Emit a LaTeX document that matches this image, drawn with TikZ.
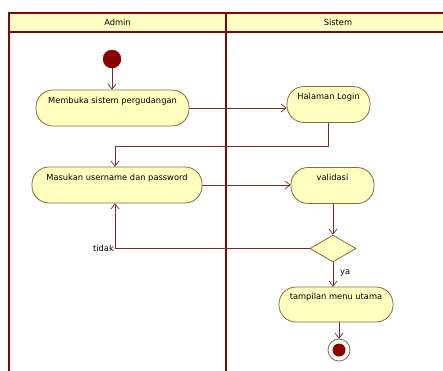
\documentclass[tikz,border=0pt]{standalone}
\usepackage{fontspec}
\setmainfont{DejaVu Sans}
\usetikzlibrary{arrows.meta,shapes.geometric}
\definecolor{lane}{HTML}{7A0A0A}
\definecolor{hdr}{HTML}{FFFFC4}
\definecolor{nfill}{HTML}{FFFFC0}
\definecolor{nbord}{HTML}{8A6A40}
\definecolor{flow}{HTML}{7A2A2A}
\definecolor{dot}{HTML}{8B0000}
\begin{document}
\begin{tikzpicture}[x=1pt,y=-1pt,
  font=\fontsize{8.3}{10}\selectfont,
  action/.style={draw=nbord,fill=nfill,line width=0.8pt,rounded corners=17pt,
    minimum height=36pt,text height=6.5pt,text depth=16pt,inner xsep=2pt},
  decision/.style={draw=nbord,fill=nfill,line width=0.8pt,diamond,aspect=1.7,
    minimum width=46pt,minimum height=27pt,inner sep=0pt},
  flowline/.style={draw=flow,line width=0.7pt,-{Straight Barb[length=5pt,width=8pt]}},
  lanebox/.style={draw=lane,line width=1.6pt},
  hdrtext/.style={font=\fontsize{8.3}{10}\selectfont}]
\useasboundingbox (0,0) rectangle (443,370);
% swimlanes
\fill[white] (0,0) rectangle (443,370);
\path[fill=hdr] (9,13) rectangle (452,32);
\draw[lanebox] (9,380) -- (9,13) -- (452,13);
\draw[lanebox] (9,32) -- (452,32);
\draw[lanebox] (226,13) -- (226,380);
\node[hdrtext] (hA) at (117.5,22.5) {Admin};
\node[hdrtext] (hS) at (338,22.5) {Sistem};
% nodes
\node[circle,fill=dot,draw=lane,line width=0.4pt,minimum size=18pt,inner sep=0pt] (start) at (112,59) {};
\node[action,minimum width=153pt] (membuka) at (112.5,108) {Membuka sistem pergudangan};
\node[action,minimum width=83pt] (login) at (328.5,104.5) {Halaman Login};
\node[action,minimum width=170pt] (masukan) at (117,185) {Masukan username dan password};
\node[action,minimum width=83pt] (validasi) at (332.5,185.5) {validasi};
\node[decision] (dec) at (333,248.5) {};
\node[action,minimum width=114pt,minimum height=35pt] (menu) at (336,304.5) {tampilan menu utama};
\node[circle,draw=nbord,fill=white,line width=0.8pt,minimum size=22pt,inner sep=0pt] (final) at (339,350) {};
\node[circle,fill=dot,minimum size=13pt,inner sep=0pt] (finalin) at (final.center) {};
\coordinate (c1) at (115,146);
\coordinate (c2) at (115,248.5);
% connectors
\draw[flowline] (start) -- (start |- membuka.north);
\draw[flowline] (membuka.east) -- (login.west |- membuka.east);
\draw[flowline] (login.south) |- (c1) -- (c1 |- masukan.north);
\draw[flowline] (masukan.east) -- (validasi.west |- masukan.east);
\draw[flowline] (validasi.south -| dec.north) -- (dec.north);
\draw[flowline] (dec.west) -- (c2) -- (c2 |- masukan.south);
\node[anchor=east,inner sep=1pt] (tidak) at (c2) {tidak};
\draw[flowline] (dec.south) -- (dec.south |- menu.north);
\node[anchor=west,inner sep=1pt] (ya) at (339,273) {ya};
\draw[flowline] (menu.south -| final.north) -- (final.north);
\end{tikzpicture}
\end{document}
